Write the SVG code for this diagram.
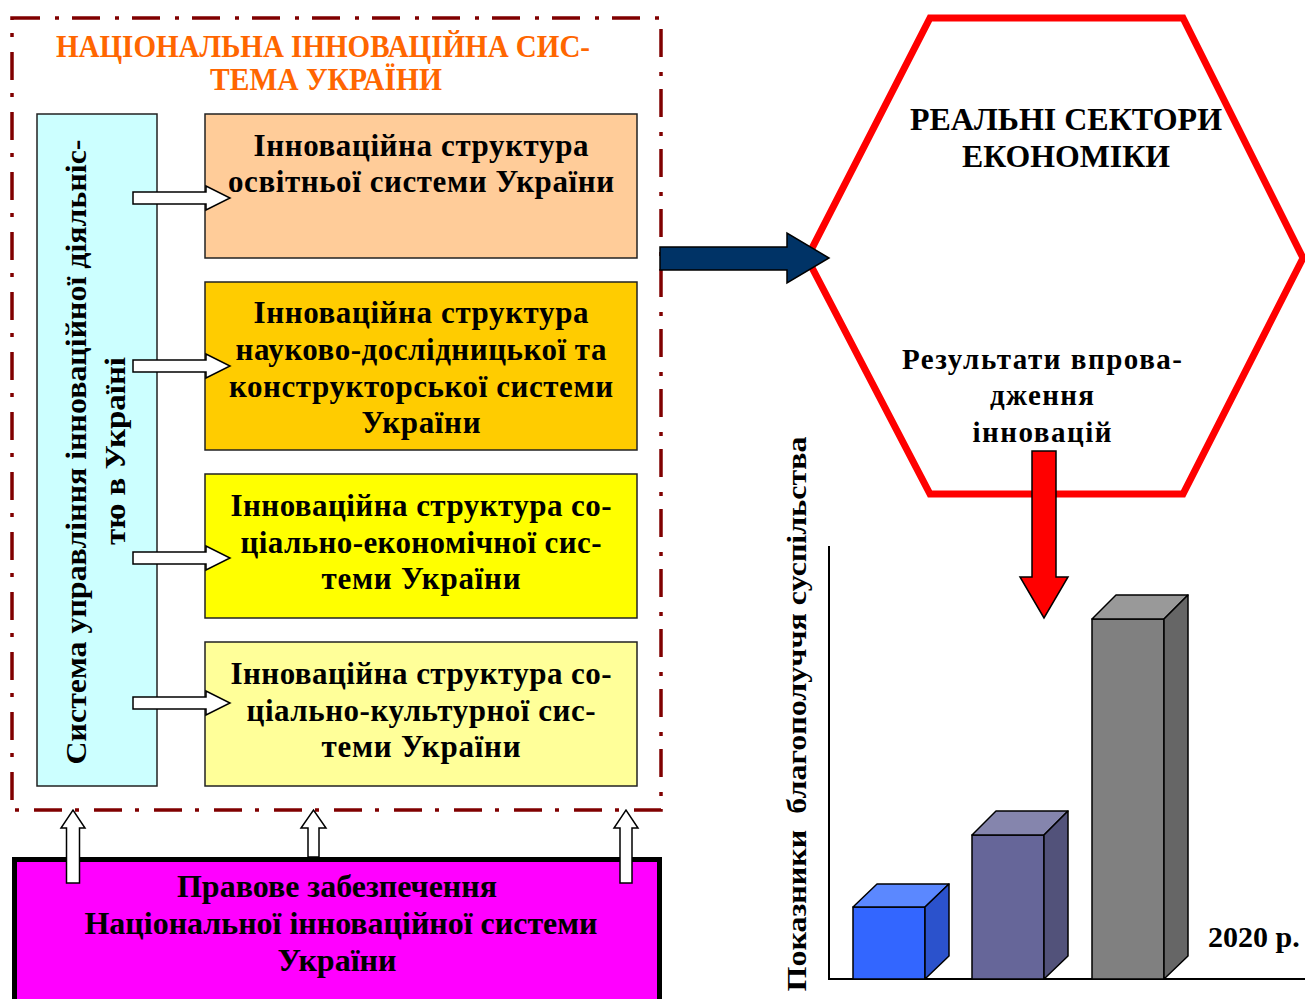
<svg xmlns="http://www.w3.org/2000/svg" width="1305" height="999" viewBox="0 0 1305 999">
<style>
text{font-family:"Liberation Serif","Times New Roman",serif;font-weight:bold;fill:#000;}
.bt{font-size:31px;text-anchor:middle;}
.box{stroke:#222;stroke-width:1.5;}
.warr{fill:#fff;stroke:#000;stroke-width:1.5;stroke-linejoin:miter;}
.bar{stroke:#000;stroke-width:1.5;stroke-linejoin:round;}
</style>
<rect width="1305" height="999" fill="#fff"/>

<g id="national-system">
<rect x="12" y="18" width="649" height="792" fill="none" stroke="#800000" stroke-width="3.5" stroke-dasharray="28 15 4 13"/>
<text x="323" y="57" font-size="32" text-anchor="middle" style="fill:#FF6600" textLength="534" lengthAdjust="spacingAndGlyphs">НАЦІОНАЛЬНА ІННОВАЦІЙНА СИС-</text>
<text x="326" y="90" font-size="32" text-anchor="middle" style="fill:#FF6600" textLength="232" lengthAdjust="spacingAndGlyphs">ТЕМА УКРАЇНИ</text>
</g>

<g id="management">
<rect class="box" x="37" y="114" width="120" height="672" fill="#CCFFFF"/>
<text font-size="30" text-anchor="middle" transform="translate(86,452) rotate(-90)" textLength="625" lengthAdjust="spacingAndGlyphs">Система управління інноваційної діяльніс-</text>
<text font-size="30" text-anchor="middle" transform="translate(125,451) rotate(-90)" textLength="188" lengthAdjust="spacingAndGlyphs">тю в Україні</text>
</g>

<g id="edu">
<rect class="box" x="205" y="114" width="432" height="144" fill="#FFCC99"/>
<text class="bt" x="421" y="156" textLength="335">Інноваційна структура</text>
<text class="bt" x="421" y="192" textLength="386">освітньої системи України</text>
</g>

<g id="research">
<rect class="box" x="205" y="282" width="432" height="168" fill="#FFCC00"/>
<text class="bt" x="421" y="323" textLength="335">Інноваційна структура</text>
<text class="bt" x="421" y="360" textLength="371">науково-дослідницької та</text>
<text class="bt" x="421" y="397" textLength="384">конструкторської системи</text>
<text class="bt" x="421" y="433" textLength="119">України</text>
</g>

<g id="socio-economic">
<rect class="box" x="205" y="474" width="432" height="144" fill="#FFFF00"/>
<text class="bt" x="421" y="516" textLength="381">Інноваційна структура со-</text>
<text class="bt" x="421" y="553" textLength="361">ціально-економічної сис-</text>
<text class="bt" x="421" y="589" textLength="199">теми України</text>
</g>

<g id="socio-cultural">
<rect class="box" x="205" y="642" width="432" height="144" fill="#FFFF99"/>
<text class="bt" x="421" y="684" textLength="381">Інноваційна структура со-</text>
<text class="bt" x="421" y="721" textLength="349">ціально-культурної сис-</text>
<text class="bt" x="421" y="757" textLength="199">теми України</text>
</g>

<g id="legal">
<rect x="14.5" y="859.5" width="645" height="150" fill="#FF00FF" stroke="#000" stroke-width="5"/>
<text class="bt" x="337" y="897" font-size="30" textLength="320" lengthAdjust="spacingAndGlyphs">Правове забезпечення</text>
<text class="bt" x="341" y="934" font-size="30" textLength="513" lengthAdjust="spacingAndGlyphs">Національної інноваційної системи</text>
<text class="bt" x="337" y="971" font-size="30" textLength="119" lengthAdjust="spacingAndGlyphs">України</text>
</g>

<g id="real-sectors">
<polygon points="930,18 1183,18 1303,258 1183,494 930,494 807,258" fill="#fff" stroke="#FF0000" stroke-width="7"/>
<text x="1066" y="130" font-size="32" text-anchor="middle" textLength="312" lengthAdjust="spacingAndGlyphs">РЕАЛЬНІ СЕКТОРИ</text>
<text x="1066" y="167" font-size="32" text-anchor="middle" textLength="208" lengthAdjust="spacingAndGlyphs">ЕКОНОМІКИ</text>
<text x="1042" y="369" font-size="29" text-anchor="middle" textLength="280">Результати впрова-</text>
<text x="1042" y="405" font-size="29" text-anchor="middle" textLength="104">дження</text>
<text x="1042" y="442" font-size="29" text-anchor="middle" textLength="139">інновацій</text>
</g>

<g id="chart">
<line x1="829" y1="546" x2="829" y2="979" stroke="#000" stroke-width="2"/>
<line x1="828" y1="979" x2="1305" y2="979" stroke="#000" stroke-width="2"/>
<rect class="bar" x="853" y="907" width="72" height="72" fill="#3366FF"/>
<polygon class="bar" points="853,907 877,884 949,884 925,907" fill="#5B88FF"/>
<polygon class="bar" points="925,907 949,884 949,956 925,979" fill="#2B52CC"/>
<rect class="bar" x="972" y="835" width="72" height="144" fill="#666699"/>
<polygon class="bar" points="972,835 996,811 1068,811 1044,835" fill="#8585AD"/>
<polygon class="bar" points="1044,835 1068,811 1068,956 1044,979" fill="#52527A"/>
<rect class="bar" x="1092" y="619" width="72" height="360" fill="#808080"/>
<polygon class="bar" points="1092,619 1116,595 1188,595 1164,619" fill="#999999"/>
<polygon class="bar" points="1164,619 1188,595 1188,956 1164,979" fill="#666666"/>
<text x="1208" y="947" font-size="30">2020 р.</text>
<text font-size="28" text-anchor="middle" transform="translate(806,714) rotate(-90)" textLength="555" lengthAdjust="spacingAndGlyphs" style="white-space:pre">Показники  благополуччя суспільства</text>
</g>

<g id="connectors">
<polygon class="warr" points="133,192 206,192 206,186 230,198 206,210 206,204 133,204"/>
<polygon class="warr" points="133,360 206,360 206,354 230,366 206,378 206,372 133,372"/>
<polygon class="warr" points="133,552 206,552 206,546 230,558 206,570 206,564 133,564"/>
<polygon class="warr" points="133,697 206,697 206,691 230,703 206,715 206,709 133,709"/>
<polygon class="warr" points="66.5,883 66.5,828 61,828 73,810 85,828 79.5,828 79.5,883"/>
<polygon class="warr" points="308,857 308,828 301,828 313.5,810 326,828 319,828 319,857"/>
<polygon class="warr" points="620,883 620,828 614,828 626,810 638,828 632,828 632,883"/>
<polygon points="660,247 787,247 787,233 829,258 787,283 787,270 660,270" fill="#003366" stroke="#000" stroke-width="1.5"/>
<polygon points="1032,451 1056,451 1056,577 1068,577 1044,618 1020,577 1032,577" fill="#FF0000" stroke="#000" stroke-width="1.5"/>
</g>
</svg>
